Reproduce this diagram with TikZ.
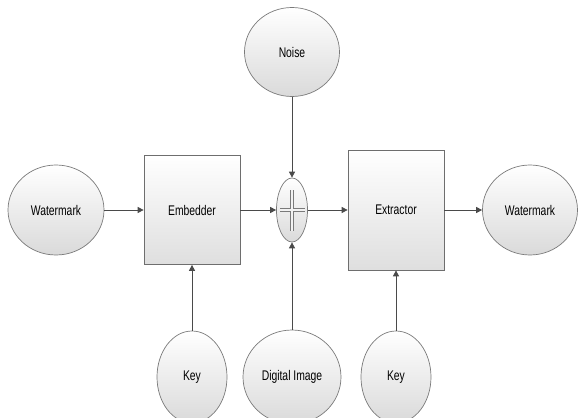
\documentclass[tikz,border=0pt]{standalone}
\usepackage{fontspec}
\setmainfont{Liberation Sans}[FakeStretch=0.74]
\usetikzlibrary{arrows.meta, shapes.geometric, calc}

\definecolor{shapefill}{HTML}{F2F2F2}
\definecolor{shapeline}{HTML}{7A7A7A}
\definecolor{arrowline}{HTML}{4A4A4A}

\tikzset{
  blob/.style={ellipse, draw=shapeline, line width=0.7pt, top color=white,
               bottom color=shapefill!90!black, inner sep=0pt},
  block/.style={rectangle, draw=arrowline!80, line width=0.7pt, top color=white,
                bottom color=shapefill!92!black, inner sep=0pt,
                minimum width=96pt},
  flow/.style={draw=arrowline, line width=0.8pt,
               -{Triangle[length=6pt, width=6pt]}}
}

\begin{document}
\begin{tikzpicture}[x=1pt, y=-1pt, font=\fontsize{14}{16}\selectfont]
  \useasboundingbox (0,0) rectangle (579,418);

  % Main row
  \node[blob, minimum width=96pt, minimum height=90pt] (wmin) at (56,210) {Watermark};
  \node[block, minimum height=109pt] (embed) at (192,210) {Embedder};
  \node[blob, minimum width=31pt, minimum height=64pt] (plus) at (292,210) {};
  \node[block, minimum height=120pt] (extract) at (396,210) {Extractor};
  \node[blob, minimum width=95pt, minimum height=90pt] (wmout) at (530,210) {Watermark};

  % Plus sign
  \draw[shapeline, double=shapefill, double distance=2.2pt, line width=0.6pt]
    ($(plus.center)+(-12,0)$) -- ($(plus.center)+(13,0)$)
    ($(plus.center)+(0,-20)$) -- ($(plus.center)+(0,21)$);

  % Top and bottom inputs
  \node[blob, minimum width=95pt, minimum height=89pt] (noise) at (292,52) {Noise};
  \node[blob, minimum width=70pt, minimum height=92pt] (keyA) at (192,377) {Key};
  \node[blob, minimum width=98pt, minimum height=94pt] (image) at (292,377) {Digital Image};
  \node[blob, minimum width=70pt, minimum height=92pt] (keyB) at (396,377) {Key};

  % Connectors
  \draw[flow] (wmin.east) -- (embed.west);
  \draw[flow] (embed.east) -- (plus.west);
  \draw[flow] (plus.east) -- (extract.west);
  \draw[flow] (extract.east) -- (wmout.west);
  \draw[flow] (noise.south) -- (plus.north);
  \draw[flow] (keyA.north) -- (embed.south);
  \draw[flow] (image.north) -- (plus.south);
  \draw[flow] (keyB.north) -- (extract.south);
\end{tikzpicture}
\end{document}
